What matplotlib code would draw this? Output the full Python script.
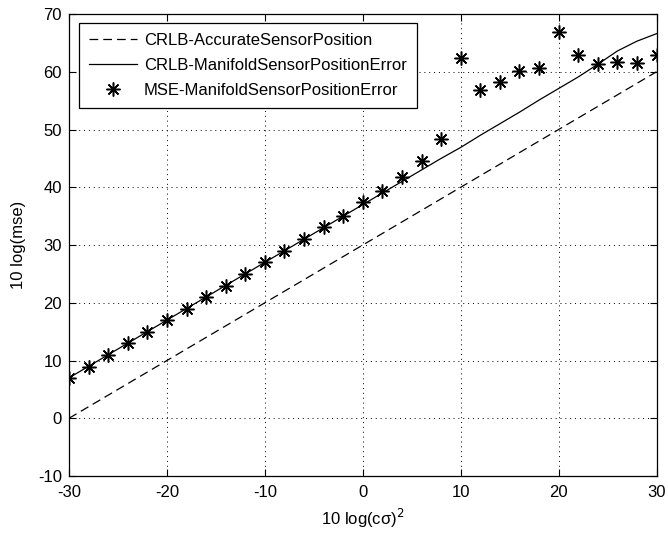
import matplotlib
matplotlib.use("Agg")
import matplotlib.pyplot as plt
import numpy as np

# x axis: 10 log(c sigma)^2
x = np.arange(-30, 31, 2)

# CRLB with accurate sensor positions (dashed)
crlb_accurate = [0, 2, 4, 6, 8, 10, 12, 14, 16, 18, 20, 22, 24, 26, 28, 30,
                 32, 34, 36, 38, 40, 42, 44, 46, 48, 50, 52, 54, 56, 58, 60]

# CRLB with manifold sensor position error (solid)
crlb_manifold = [7.0, 9.0, 11.0, 13.0, 15.0, 17.0, 19.0, 21.0, 23.0, 25.0, 27.0,
                 29.0, 31.0, 33.0, 35.0, 37.0, 39.0, 41.0, 43.0, 45.0, 46.9,
                 49.0, 51.0, 53.0, 55.1, 57.1, 59.1, 61.3, 63.6, 65.3, 66.6]

# MSE with manifold sensor position error (stars)
mse_manifold = [7.0, 8.9, 11.0, 13.1, 15.0, 17.0, 19.0, 21.0, 22.9, 25.0, 27.1,
                29.0, 31.0, 33.1, 35.1, 37.4, 39.4, 41.8, 44.5, 48.4, 62.4,
                56.9, 58.2, 60.2, 60.7, 66.9, 62.9, 61.3, 61.7, 61.5, 62.9]

plt.rcParams['font.family'] = ['Liberation Sans', 'DejaVu Sans']
plt.rcParams['font.size'] = 12
plt.rcParams['axes.unicode_minus'] = False

fig = plt.figure(figsize=(6.68, 5.38), dpi=100)
ax = fig.add_axes([0.1033, 0.1152, 0.8795, 0.8587])

ax.plot(x, crlb_accurate, color='black', lw=0.9, linestyle=(0, (7, 4)),
        label='CRLB-AccurateSensorPosition')
ax.plot(x, crlb_manifold, color='black', lw=0.9, linestyle='-',
        label='CRLB-ManifoldSensorPositionError')
ax.plot(x, mse_manifold, color='black', linestyle='none', marker=(8, 2, 0),
        markersize=10, markeredgewidth=1.1,
        label='MSE-ManifoldSensorPositionError')

ax.set_xlim(-30, 30)
ax.set_ylim(-10, 70)
ax.set_xticks(np.arange(-30, 31, 10))
ax.set_yticks(np.arange(-10, 71, 10))
ax.grid(True, color='black', linestyle=(0, (1, 4)), lw=0.7)
ax.tick_params(direction='in', top=True, right=True, length=5, width=0.8)
ax.tick_params(axis='x', pad=6.5)
ax.tick_params(axis='y', pad=5)
for s in ax.spines.values():
    s.set_linewidth(0.9)

ax.set_xlabel('10 log(c\u03c3)$^2$', labelpad=5)
ax.set_ylabel('10 log(mse)', labelpad=9)

leg = ax.legend(loc='upper left', bbox_to_anchor=(0.017, 0.9805), fancybox=False,
                edgecolor='black', framealpha=1, handlelength=2.9,
                borderpad=0.6, borderaxespad=0, labelspacing=0.6,
                handletextpad=0.4)
leg.get_frame().set_linewidth(0.9)

fig.savefig('out.png', dpi=100)
